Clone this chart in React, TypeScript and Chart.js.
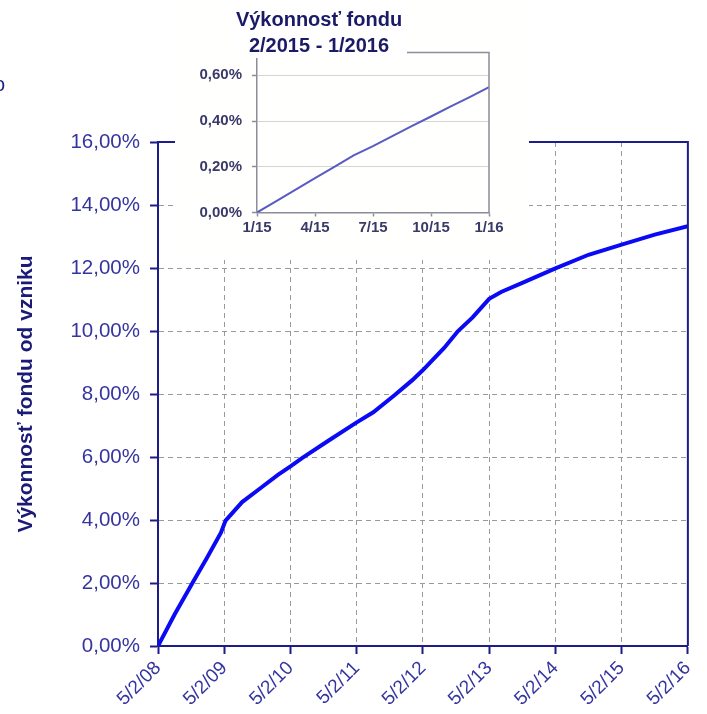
import React, { useEffect, useRef } from 'react';
import { Chart, registerables } from 'chart.js';
Chart.register(...registerables);

// ---- Main chart data (years since 5/2/08, cumulative performance in %) ----
const mainYears = [0, 0.25, 0.52, 0.74, 0.95, 1.02, 1.27, 1.54, 1.81, 2.0, 2.18, 2.56, 3.0, 3.25, 3.57, 3.84, 4.0, 4.32, 4.53, 4.75, 5.0, 5.18, 5.5, 6.0, 6.5, 7.0, 7.5, 8.0];
const mainValues = [0, 1.0, 2.0, 2.8, 3.6, 3.98, 4.57, 5.0, 5.43, 5.7, 5.97, 6.5, 7.1, 7.42, 7.96, 8.44, 8.76, 9.46, 10.0, 10.43, 11.02, 11.24, 11.53, 11.99, 12.42, 12.74, 13.06, 13.33];
const mainXTickLabels = ['5/2/08', '5/2/09', '5/2/10', '5/2/11', '5/2/12', '5/2/13', '5/2/14', '5/2/15', '5/2/16'];
const mainAxisTitle = 'Výkonnosť fondu od vzniku';

// ---- Inset chart data (months since 1/15, performance in %) ----
const insetMonths = [0, 1, 2, 3, 4, 5, 6, 7, 8, 9, 10, 11, 12];
const insetValues = [0, 0.05, 0.1, 0.15, 0.2, 0.25, 0.29, 0.334, 0.378, 0.42, 0.463, 0.505, 0.548];
const insetXTickLabels = ['1/15', '4/15', '7/15', '10/15', '1/16'];
const insetTitleLines = ['Výkonnosť fondu', '2/2015 - 1/2016'];

const FONT = '"Liberation Sans", Arial, Helvetica, sans-serif';
const NAVY = '#1c1c8a';
const fmtPct = (v: number) => v.toFixed(2).replace('.', ',') + '%';

export default function App() {
  const mainRef = useRef<HTMLCanvasElement | null>(null);
  const insetRef = useRef<HTMLCanvasElement | null>(null);

  useEffect(() => {
    const framePlugin = {
      id: 'mainFrame',
      afterDraw(chart: any) {
        const { ctx, chartArea: a } = chart;
        ctx.save();
        ctx.strokeStyle = NAVY;
        ctx.lineWidth = 2;
        ctx.beginPath();
        ctx.moveTo(a.left, a.top);
        ctx.lineTo(a.right, a.top);
        ctx.lineTo(a.right, a.bottom);
        ctx.stroke();
        ctx.fillStyle = NAVY;
        ctx.font = `20px ${FONT}`;
        ctx.textBaseline = 'middle';
        ctx.fillText('o', -6, 85);
        ctx.restore();
      },
    };

    const main = new Chart(mainRef.current as HTMLCanvasElement, {
      type: 'line',
      data: {
        datasets: [
          {
            data: mainYears.map((x, i) => ({ x, y: mainValues[i] })),
            borderColor: '#0a0af5',
            borderWidth: 4,
            pointRadius: 0,
            tension: 0,
            fill: false,
          },
        ],
      },
      options: {
        animation: false,
        responsive: false,
        events: [],
        layout: { padding: { left: 0, right: 19, top: 142, bottom: 0 } },
        plugins: { legend: { display: false }, tooltip: { enabled: false } },
        scales: {
          x: {
            type: 'linear',
            min: 0,
            max: 8,
            afterFit: (s: any) => {
              s.height = 68;
            },
            ticks: {
              stepSize: 1,
              autoSkip: false,
              maxRotation: 45,
              minRotation: 45,
              padding: 3,
              color: '#3535a0',
              font: { family: FONT, size: 19 },
              callback: (v: any) => mainXTickLabels[Math.round(v)] ?? '',
            },
            grid: { color: '#9a9a9a', lineWidth: 1, tickColor: NAVY, tickWidth: 2, tickLength: 8 },
            border: { color: NAVY, width: 2, dash: [5, 4] },
          },
          y: {
            type: 'linear',
            min: 0,
            max: 16,
            afterFit: (s: any) => {
              s.width = 158;
            },
            ticks: {
              stepSize: 2,
              padding: 10,
              color: '#3535a0',
              font: { family: FONT, size: 20.5 },
              callback: (v: any) => fmtPct(Number(v)),
            },
            grid: { color: '#9a9a9a', lineWidth: 1, tickColor: NAVY, tickWidth: 2, tickLength: 8 },
            border: { color: NAVY, width: 2, dash: [5, 4] },
            title: {
              display: true,
              text: mainAxisTitle,
              color: '#1a1a78',
              font: { family: FONT, size: 21, weight: 'bold' },
              padding: { top: 14, bottom: 0 },
            },
          },
        },
      },
      plugins: [framePlugin],
    } as any);

    const insetPlugin = {
      id: 'insetDeco',
      afterDraw(chart: any) {
        const { ctx, chartArea: a } = chart;
        ctx.save();
        ctx.strokeStyle = '#8c8c9c';
        ctx.lineWidth = 1.5;
        ctx.beginPath();
        ctx.moveTo(a.left, a.top);
        ctx.lineTo(a.right, a.top);
        ctx.lineTo(a.right, a.bottom);
        ctx.stroke();
        // title with white backing
        ctx.fillStyle = '#ffffff';
        ctx.fillRect(56, 0, 176, 58);
        ctx.fillStyle = '#1a1a66';
        ctx.font = `bold 20px ${FONT}`;
        ctx.textAlign = 'center';
        ctx.textBaseline = 'middle';
        ctx.fillText(insetTitleLines[0], 144, 20);
        ctx.fillText(insetTitleLines[1], 144, 46);
        ctx.restore();
      },
    };

    const inset = new Chart(insetRef.current as HTMLCanvasElement, {
      type: 'line',
      data: {
        datasets: [
          {
            data: insetMonths.map((x, i) => ({ x, y: insetValues[i] })),
            borderColor: '#5a5ac4',
            borderWidth: 2,
            pointRadius: 0,
            tension: 0,
            fill: false,
          },
        ],
      },
      options: {
        animation: false,
        responsive: false,
        events: [],
        layout: { padding: { left: 0, right: 40, top: 52.5, bottom: 0 } },
        plugins: { legend: { display: false }, tooltip: { enabled: false } },
        scales: {
          x: {
            type: 'linear',
            min: 0,
            max: 12,
            afterFit: (s: any) => {
              s.height = 47.5;
            },
            ticks: {
              stepSize: 3,
              autoSkip: false,
              maxRotation: 0,
              minRotation: 0,
              padding: 2,
              color: '#3a3a6a',
              font: { family: FONT, size: 15, weight: 'bold' },
              callback: (v: any) => insetXTickLabels[Math.round(v / 3)] ?? '',
            },
            grid: { color: 'rgba(0,0,0,0)', tickColor: '#8c8c9c', tickWidth: 1.5, tickLength: 4 },
            border: { color: '#8c8c9c', width: 1.5 },
          },
          y: {
            type: 'linear',
            min: 0,
            max: 0.7,
            afterFit: (s: any) => {
              s.width = 82;
            },
            afterBuildTicks: (s: any) => {
              s.ticks = s.ticks.filter((t: any) => t.value <= 0.6001);
            },
            ticks: {
              stepSize: 0.2,
              padding: 10,
              color: '#3a3a6a',
              font: { family: FONT, size: 15, weight: 'bold' },
              callback: (v: any) => fmtPct(Number(v)),
            },
            grid: { color: '#d4d4d4', lineWidth: 1, tickColor: '#8c8c9c', tickWidth: 1.5, tickLength: 5 },
            border: { color: '#8c8c9c', width: 1.5 },
          },
        },
      },
      plugins: [insetPlugin],
    } as any);

    return () => {
      main.destroy();
      inset.destroy();
    };
  }, []);

  return (
    <div style={{ position: 'fixed', left: 0, top: 0, width: 707, height: 714, background: '#ffffff' }}>
      <canvas ref={mainRef} width={707} height={714} style={{ position: 'absolute', left: 0, top: 0 }} />
      <canvas
        ref={insetRef}
        width={354}
        height={260}
        style={{ position: 'absolute', left: 175, top: 0, background: '#fffffd' }}
      />
    </div>
  );
}
